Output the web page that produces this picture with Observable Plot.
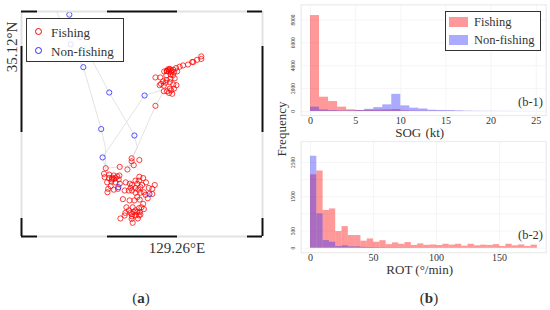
<!DOCTYPE html>
<html><head><meta charset="utf-8">
<script src="https://cdn.jsdelivr.net/npm/d3@7"></script>
<script src="https://cdn.jsdelivr.net/npm/@observablehq/plot@0.6"></script>
<style>
html,body{margin:0;padding:0;background:#fff}
#root{position:relative;width:550px;height:310px;overflow:hidden;font-family:"Liberation Serif",serif;color:#333}
#root svg{position:absolute;background:none}
.t{position:absolute;white-space:nowrap;transform:translate(-50%,-50%);line-height:1}
.box{position:absolute;border:1px solid #333;background:rgba(255,255,255,.82);box-sizing:border-box}
.sw{position:absolute}
</style></head><body><div id="root"></div>
<script>
// Map readings: offsets in 0.001 degree from 129.26 E and 35.12 N
const fishingLon=[6.8,6.8,5.6,4.5,4.2,3.0,1.6,0.6,-0.4,-1.2,-2.2,-2.7,-3.1,-3.8,-2.5,-1.8,-1.0,-0.1,-2.0,-3.2,-1.3,-0.8,-4.9,-6.3,-3.1,-4.1,-2.2,-4.7,-5.1,-3.9,-0.3,-1.2,-2.2,-1.0,-3.9,-3.0,-1.8,-1.5,-2.4,-6.3,-2.0,-3.4,-3.0,-2.3,-1.8,
-13.1,-10.9,-13.1,-12.5,-14.3,-16.5,-20.5,-21.0,-19.5,-18.2,-17.2,-16.6,-20.8,-19.6,-18.7,-17.7,-16.8,-20.1,-18.9,-17.7,-16.5,-19.1,-19.8,-18.2,-20.0,-17.0,-18.7,-18.2,
-14.8,-10.9,-9.8,-12.0,-11.0,-9.0,-13.6,-13.0,-11.5,-10.1,-13.4,-12.0,-15.1,-13.9,-13.0,-11.2,-10.6,-8.2,-6.5,-7.2,-9.6,-10.6,-9.1,-8.5,-7.2,-12.0,-11.5,-12.3,-13.7,-15.6,-10.8,
-9.8,-10.3,-14.6,-13.9,-12.8,-11.0,-11.5,-9.6,-14.9,-13.4,-12.5,-10.8,-15.1,-13.0,-12.0,-10.6,-16.3,-13.1,-11.3,-11.0,-12.8,-12.0,-13.0];
const fishingLat=[-2.3,-2.9,-3.1,-3.6,-3.6,-4.2,-4.4,-4.7,-5.0,-5.4,-5.2,-5.3,-5.7,-5.8,-5.8,-5.6,-6.0,-5.8,-6.5,-6.7,-6.7,-7.4,-7.2,-7.2,-7.8,-8.1,-8.3,-8.7,-9.0,-9.1,-9.0,-8.8,-9.8,-9.8,-10.4,-10.4,-10.2,-11.0,-10.8,-13.8,-7.5,-8.4,-5.7,-5.4,-6.0,
-26.0,-26.4,-26.7,-27.6,-28.6,-28.0,-28.3,-29.6,-29.8,-30.0,-30.2,-30.0,-30.4,-30.6,-30.5,-30.6,-30.9,-31.6,-31.4,-31.6,-31.9,-32.5,-33.1,-33.3,-33.9,-33.1,-30.9,-30.8,
-31.6,-30.3,-30.6,-31.2,-31.2,-31.6,-31.9,-32.2,-31.9,-32.2,-32.9,-32.9,-33.5,-33.5,-33.5,-33.3,-32.7,-32.9,-32.2,-33.1,-33.9,-34.0,-34.5,-35.3,-34.3,-34.0,-35.0,-35.8,-35.8,-35.5,-35.6,
-36.6,-37.4,-37.4,-38.1,-37.4,-37.6,-38.5,-37.8,-38.7,-38.7,-38.5,-38.5,-39.3,-39.5,-39.3,-39.1,-40.0,-40.1,-40.0,-39.3,-41.0,-38.1,-39.0];
const nonFishingLon=[-30.9,-27.9,-30.5,-26.9,-19.5,-9.4,-21.8,-12.3,-21.4,-16.9,-8.0];
const nonFishingLat=[7.4,2.2,0.5,-4.8,-10.7,-11.4,-19.2,-20.7,-25.8,-32.7,-34.3];
const trackLon=[[-34.9,-30.5,-26.9,-21.8,-20.6,-20.5],[-30.9,-27.9,-19.5,-12.3,-11.5,-13.1],[-20.5,-21.4,-9.4,-2.5],[-3.9,-6.3,-12.5,-13.1],[-13.1,-12.5,-16.5,-20.5,-19.5],[-14.3,-13.1],[-16.9,-14.8,-12.0,-8.0,-10.8,-12.3,-12.8]];
const trackLat=[[8.8,0.5,-4.8,-19.2,-23.5,-28.3],[7.4,2.2,-10.7,-20.7,-23.5,-26.0],[-28.3,-25.8,-11.4,-9.6],[-10.4,-13.8,-25.3,-26.0],[-26.0,-27.6,-28.0,-28.3,-29.8],[-28.6,-26.7],[-32.7,-31.6,-32.9,-34.3,-35.6,-35.8,-37.4]];
const lonLimits=[-44.57,24.29], latLimits=[-44.19,8.14];
const lonBreaks=[-44.57,-40,-20,0,20,24.29];
const latBreaks=[8.14,0,-20,-40,-44.19];
const seriesNames=["Fishing","Non-fishing"];
const lonTickLabel="129.26°E", latTickLabel="35.12°N";

// SOG histogram, 1 kt bins
const sogFishing=[8384,1250,870,380,150,90,110,120,140,170,60,30,25,20,15,12,10,8,6,5,4,3,3,2,2];
const sogNonFishing=[380,130,80,50,50,90,190,340,580,1500,490,290,220,110,90,80,50,25,15,12,10,8,6,4,3];
const sogTicks=[0,5,10,15,20,25], sogCountTicks=[0,2000,4000,6000,8000];
// ROT histogram, 5 degree/min bins
const rotFishing=[2140,2250,1100,1145,485,630,370,370,205,270,175,220,105,155,115,165,80,125,85,95,80,115,90,115,60,115,70,90,80,105,50,115,70,95,50,90];
const rotNonFishing=[2680,1000,225,175,50,70,40,40,25,20,18,15,12,12,10,10,8,8,8,6,6,6,6,5,5,5,5,5,4,4,4,4,4,4,3,3];
const rotTicks=[0,50,100,150], rotCountTicks=[0,500,1500,2500], rotCountGrid=[0,500,1000,1500,2000,2500];

const serif='"Liberation Serif",serif';
const RED="#ff0000", BLUE="#2a2aff";
const root=document.getElementById("root");
function place(svg,l,t){svg.style.left=l+"px";svg.style.top=t+"px";root.appendChild(svg);}
function label(s,x,y,size,extra){const d=document.createElement("div");d.className="t";d.innerHTML=s;
  d.style.left=x+"px";d.style.top=y+"px";d.style.fontSize=size+"px";if(extra)d.style.cssText+=extra;root.appendChild(d);return d;}

// Map
const seg=(br,first)=>br.slice(0,-1).map((a,i)=>({a,b:br[i+1],dark:(i%2===0)===first}));
const lonSeg=seg(lonBreaks,true), latSeg=seg(latBreaks,false);
const edgeH=(v,dark)=>lonSeg.filter(s=>s.dark===dark).map(s=>({...s,v}));
const edgeV=(v,dark)=>latSeg.filter(s=>s.dark===dark).map(s=>({...s,v}));
const edgeMarks=dark=>{const o={stroke:dark?"#111":"#e2e2e2",strokeWidth:dark?2:2};
  const h=[...edgeH(latLimits[0],dark),...edgeH(latLimits[1],dark)];
  const w=[...edgeV(lonLimits[0],dark),...edgeV(lonLimits[1],dark)];
  return [Plot.ruleY(h,{y:"v",x1:"a",x2:"b",...o}),Plot.ruleX(w,{x:"v",y1:"a",y2:"b",...o})];};
const tracks=trackLon.flatMap((t,k)=>t.map((x,i)=>({x,y:trackLat[k][i],k})));
const pts=(xs,ys)=>xs.map((x,i)=>({x,y:ys[i]}));
place(Plot.plot({width:275,height:245,marginLeft:21,marginRight:13,marginTop:11,marginBottom:9,
  style:{background:"none"},
  x:{domain:lonLimits,axis:null},y:{domain:latLimits,axis:null},
  marks:[
    Plot.line(tracks,{x:"x",y:"y",z:"k",stroke:"#e0e0e0",strokeWidth:0.9,clip:true}),
    Plot.dot(pts(fishingLon,fishingLat),{x:"x",y:"y",r:2.6,stroke:RED,strokeWidth:1,strokeOpacity:.75,fill:"none"}),
    Plot.dot(pts(nonFishingLon,nonFishingLat),{x:"x",y:"y",r:2.6,stroke:BLUE,strokeWidth:1,strokeOpacity:.8,fill:"none"}),
    ...edgeMarks(false),...edgeMarks(true)
  ]}),0,0);

// Map legend
const lb=document.createElement("div");lb.className="box";
lb.style.cssText="left:26px;top:18px;width:98px;height:44px";root.appendChild(lb);
[[RED,31.5],[BLUE,50.5]].forEach(([c,y],i)=>{
  const s=document.createElement("div");s.className="sw";
  s.style.cssText=`left:35px;top:${y-3.7}px;width:7.4px;height:7.4px;border:1.2px solid ${c};border-radius:50%;box-sizing:border-box`;
  root.appendChild(s);
  const d=label(seriesNames[i],51,y,13);d.style.transform="translate(0,-50%)";
});
label(latTickLabel,12,47,15,"transform:translate(-50%,-50%) rotate(-90deg)");
label(lonTickLabel,177,248,15);
label("(<b>a</b>)",141,298,15);
label("(<b>b</b>)",429,298,15);

// Histograms
function hist(opts){
  const {fishing,nonFishing,bin,xTicks,yTicks,yGrid,xDomain,yDomain,height,marginTop,marginBottom,top}=opts;
  const rows=a=>a.map((v,i)=>({x1:i*bin,x2:(i+1)*bin,y:v}));
  const tickStyle={fontFamily:serif,tickSize:0,label:null};
  place(Plot.plot({width:280,height,marginLeft:30.7,marginRight:4.3,marginTop,marginBottom,
    style:{background:"none",fontFamily:serif,color:"#333"},
    x:{domain:xDomain},y:{domain:yDomain},
    marks:[
      Plot.ruleX(xTicks,{stroke:"#f3f3f3",strokeWidth:0.8}),
      Plot.ruleY(yGrid,{stroke:"#f3f3f3",strokeWidth:0.8}),
      Plot.frame({stroke:"#ececec",strokeWidth:1.2}),
      Plot.rectY(rows(fishing),{x1:"x1",x2:"x2",y:"y",fill:RED,fillOpacity:.4}),
      Plot.rectY(rows(nonFishing),{x1:"x1",x2:"x2",y:"y",fill:BLUE,fillOpacity:.4}),
      Plot.axisX({...tickStyle,ticks:xTicks,tickFormat:String,fontSize:10,tickPadding:1,anchor:"bottom"}),
      Plot.axisY({...tickStyle,ticks:yTicks,tickFormat:String,fontSize:5.5,tickRotate:-90,textAnchor:"middle",tickPadding:6,anchor:"left"})
    ]}),270,top);
}
hist({fishing:sogFishing,nonFishing:sogNonFishing,bin:1,xTicks:sogTicks,yTicks:sogCountTicks,yGrid:sogCountTicks,
  xDomain:[-1.03,26.1],yDomain:[-350,9320],height:136,marginTop:4.3,marginBottom:21,top:0});
hist({fishing:rotFishing,nonFishing:rotNonFishing,bin:5,xTicks:rotTicks,yTicks:rotCountTicks,yGrid:rotCountGrid,
  xDomain:[-7.4,187],yDomain:[-134,3110],height:136,marginTop:5,marginBottom:19.7,top:136});

label("SOG (kt)",419.7,132,13,"word-spacing:1px");
label("ROT (°/min)",419.7,269,13);
label("Frequency",281,129,13,"transform:translate(-50%,-50%) rotate(-90deg)");
label("(b-1)",530.5,102,12.5);
label("(b-2)",530.5,235,12.5);

// Histogram legend
const hb=document.createElement("div");hb.className="box";
hb.style.cssText="left:445px;top:10.5px;width:96px;height:40.5px;background:#fff";root.appendChild(hb);
[[RED,22,.4],[BLUE,40,.4]].forEach(([c,y,o],i)=>{
  const s=document.createElement("div");s.className="sw";
  s.style.cssText=`left:448.5px;top:${y-4.7}px;width:19px;height:9.4px;background:${c};opacity:${o}`;
  root.appendChild(s);
  const d=label(seriesNames[i],474,y,12.5);d.style.transform="translate(0,-50%)";
});
</script></body></html>
